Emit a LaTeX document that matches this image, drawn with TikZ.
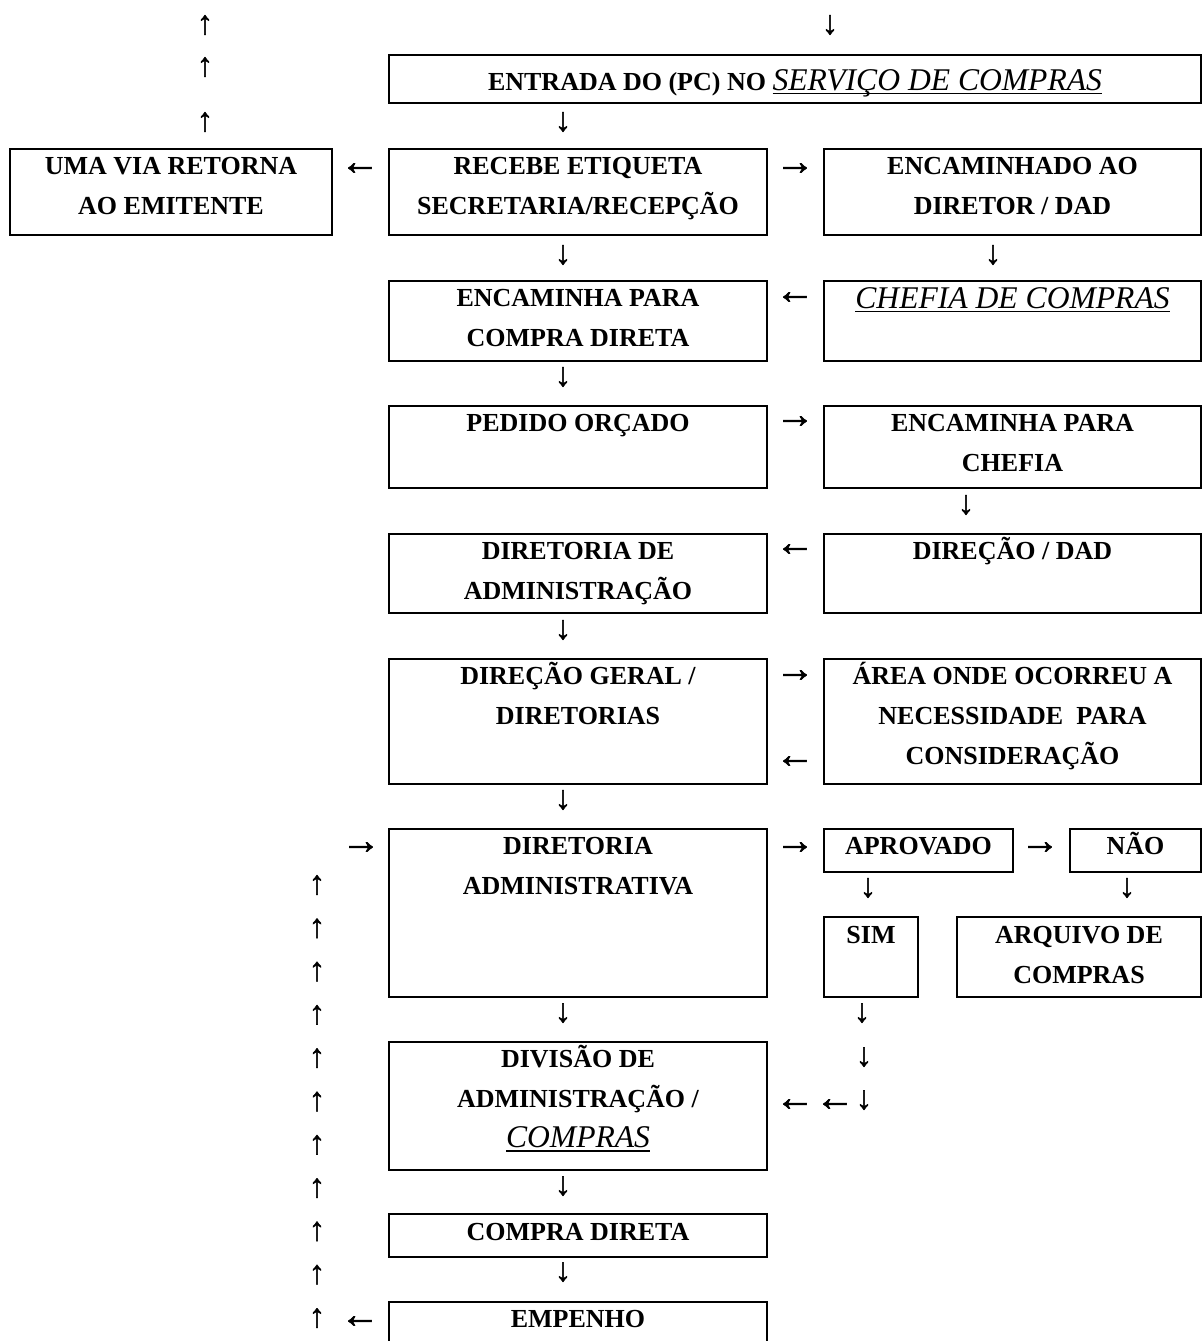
\documentclass[tikz,border=0pt]{standalone}
\usepackage{fontspec}
\setmainfont{Liberation Serif}
\newfontfamily\arrfont[FakeBold=1.5]{Liberation Serif}
\usetikzlibrary{fit}
\newlength\myulw
\newcommand\myul[1]{\settowidth\myulw{#1}\rlap{\rule[-4pt]{\myulw}{1.6pt}}#1}
\newcommand\itbig{\fontsize{31.6}{40}\selectfont\mdseries\itshape}
\tikzset{
  box/.style={draw, line width=2.2pt, inner sep=0pt, outer sep=0pt},
  lbl/.style={anchor=north, align=center, inner sep=0pt, font=\fontsize{26}{40}\selectfont\bfseries},
  va/.style={inner sep=0pt, font=\arrfont\fontsize{33}{33}\selectfont},
  ha/.style={inner sep=0pt, font=\arrfont\fontsize{39}{39}\selectfont},
}
\begin{document}
\begin{tikzpicture}[x=1pt,y=-1pt]
\useasboundingbox (0,0) rectangle (1203,1341);
\clip (0,0) rectangle (1203,1341);
% boxes
\node[box, fit={(389,55)(1201,103)}] (entrada) {};
\node[box, fit={(10,149)(332,235)}] (umavia) {};
\node[box, fit={(389,149)(767,235)}] (recebe) {};
\node[box, fit={(824,149)(1201,235)}] (encdir) {};
\node[box, fit={(389,281)(767,361)}] (enccd) {};
\node[box, fit={(824,281)(1201,361)}] (chefia) {};
\node[box, fit={(389,406)(767,488)}] (pedido) {};
\node[box, fit={(824,406)(1201,488)}] (encch) {};
\node[box, fit={(389,534)(767,613)}] (diradm) {};
\node[box, fit={(824,534)(1201,613)}] (dirdad) {};
\node[box, fit={(389,659)(767,784)}] (dirger) {};
\node[box, fit={(824,659)(1201,784)}] (area) {};
\node[box, fit={(389,829)(767,997)}] (diradmv) {};
\node[box, fit={(824,829)(1013,872)}] (aprov) {};
\node[box, fit={(1070,829)(1201,872)}] (nao) {};
\node[box, fit={(824,917)(918,997)}] (sim) {};
\node[box, fit={(957,917)(1201,997)}] (arq) {};
\node[box, fit={(389,1042)(767,1170)}] (div) {};
\node[box, fit={(389,1214)(767,1257)}] (compra) {};
\node[box, fit={(389,1302)(767,1380)}] (emp) {};
% labels
\node[lbl] (Lentrada) at ([yshift=-7pt]entrada.north) {\strut ENTRADA DO (PC) NO {\itbig\myul{SERVIÇO DE COMPRAS}}};
\node[lbl] (Lumavia) at ([yshift=2.5pt]umavia.north) {\strut UMA VIA RETORNA\\AO EMITENTE};
\node[lbl] (Lrecebe) at ([yshift=2.5pt]recebe.north) {\strut RECEBE ETIQUETA\\SECRETARIA/RECEPÇÃO};
\node[lbl] (Lencdir) at ([yshift=2.5pt]encdir.north) {\strut ENCAMINHADO AO\\DIRETOR / DAD};
\node[lbl] (Lenccd) at ([yshift=2.5pt]enccd.north) {\strut ENCAMINHA PARA\\COMPRA DIRETA};
\node[lbl] (Lchefia) at ([yshift=1pt]chefia.north) {\strut {\itbig\myul{CHEFIA DE COMPRAS}}};
\node[lbl] (Lpedido) at ([yshift=2.5pt]pedido.north) {\strut PEDIDO ORÇADO};
\node[lbl] (Lencch) at ([yshift=2.5pt]encch.north) {\strut ENCAMINHA PARA\\CHEFIA};
\node[lbl] (Ldiradm) at ([yshift=2.5pt]diradm.north) {\strut DIRETORIA DE\\ADMINISTRAÇÃO};
\node[lbl] (Ldirdad) at ([yshift=2.5pt]dirdad.north) {\strut DIREÇÃO / DAD};
\node[lbl] (Ldirger) at ([yshift=2.5pt]dirger.north) {\strut DIREÇÃO GERAL /\\DIRETORIAS};
\node[lbl] (Larea) at ([yshift=2.5pt]area.north) {\strut ÁREA ONDE OCORREU A\\NECESSIDADE\ \ PARA\\CONSIDERAÇÃO};
\node[lbl] (Ldiradmv) at ([yshift=2.5pt]diradmv.north) {\strut DIRETORIA\\ADMINISTRATIVA};
\node[lbl] (Laprov) at ([yshift=2.5pt]aprov.north) {\strut APROVADO};
\node[lbl] (Lnao) at ([yshift=2.5pt]nao.north) {\strut NÃO};
\node[lbl] (Lsim) at ([yshift=1.5pt]sim.north) {\strut SIM};
\node[lbl] (Larq) at ([yshift=1.5pt]arq.north) {\strut ARQUIVO DE\\COMPRAS};
\node[lbl] (Ldiv) at ([yshift=2.5pt]div.north) {\strut DIVISÃO DE\\ADMINISTRAÇÃO /\\{\itbig\myul{COMPRAS}}};
\node[lbl] (Lcompra) at ([yshift=2pt]compra.north) {\strut COMPRA DIRETA};
\node[lbl] (Lemp) at ([yshift=2.5pt]emp.north) {\strut EMPENHO};
% arrow glyphs
\node[va] (a01) at (205,25) {↑};
\node[va] (a02) at (205,67) {↑};
\node[va] (a03) at (205,122) {↑};
\node[va] (a04) at (830,25) {↓};
\node[va] (a05) at (563,122) {↓};
\node[ha] (a06) at (360,169) {←};
\node[ha] (a07) at (795,169) {→};
\node[va] (a08) at (563,255) {↓};
\node[va] (a09) at (993,255) {↓};
\node[ha] (a10) at (795,298) {←};
\node[va] (a11) at (563,377) {↓};
\node[ha] (a12) at (795,422) {→};
\node[va] (a13) at (966,505) {↓};
\node[ha] (a14) at (795,550) {←};
\node[va] (a15) at (563,630) {↓};
\node[ha] (a16) at (795,676) {→};
\node[ha] (a17) at (795,762) {←};
\node[va] (a18) at (563,800) {↓};
\node[ha] (a19) at (361,848) {→};
\node[ha] (a20) at (795,848) {→};
\node[ha] (a21) at (1040,848) {→};
\node[va] (a22) at (868,888) {↓};
\node[va] (a23) at (1127,888) {↓};
\node[va] (a24) at (563,1013) {↓};
\node[va] (a25) at (862,1013) {↓};
\node[va] (a26) at (864,1057) {↓};
\node[va] (a27) at (864,1100) {↓};
\node[ha] (a28) at (795,1105) {←};
\node[ha] (a29) at (835,1105) {←};
\node[va] (a30) at (563,1186) {↓};
\node[va] (a31) at (563,1272) {↓};
\node[ha] (a32) at (360,1322) {←};
\foreach \k in {0,...,10} \node[va] (up\k) at (317,{885+43.3*\k}) {↑};
\end{tikzpicture}
\end{document}
